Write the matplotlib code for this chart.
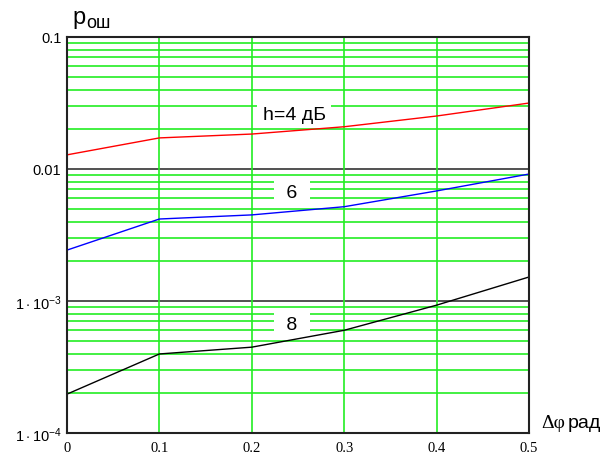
import numpy as np
import matplotlib
matplotlib.use("Agg")
import matplotlib.pyplot as plt
from matplotlib.ticker import FixedLocator, NullFormatter

# data
dphi = [0.0, 0.1, 0.2, 0.3, 0.4, 0.5]
p_h4 = [0.0128, 0.0172, 0.0184, 0.0209, 0.0252, 0.0316]
p_h6 = [0.00243, 0.00418, 0.00449, 0.00518, 0.00682, 0.00916]
p_h8 = [1.97e-4, 3.97e-4, 4.47e-4, 6.0e-4, 9.3e-4, 1.52e-3]

x_ticks = [0, 0.1, 0.2, 0.3, 0.4, 0.5]
x_labels = ["0", "0.1", "0.2", "0.3", "0.4", "0.5"]
y_ticks = [1e-4, 1e-3, 1e-2, 1e-1]
y_labels = [r"$1\cdot10^{-4}$", r"$1\cdot10^{-3}$", "0.01", "0.1"]

plt.rcParams["mathtext.fontset"] = "custom"
plt.rcParams["mathtext.rm"] = "Liberation Sans"
plt.rcParams["mathtext.it"] = "Liberation Sans"

fig = plt.figure(figsize=(6.06, 4.56), dpi=100)
ax = fig.add_axes([67 / 606, 22 / 456, 462 / 606, 396 / 456])
ax.set_yscale("log")
ax.set_xlim(0, 0.5)
ax.set_ylim(1e-4, 0.1)

green = "#22ee22"
# minor horizontal grid (green) and decade lines (dark)
minor = [m * 10.0 ** e for e in range(-4, -1) for m in range(2, 10)]
for v in minor:
    ax.axhline(v, color=green, lw=1.2, zorder=1)
for v in [1e-3, 1e-2]:
    ax.axhline(v, color="#333333", lw=1.2, zorder=1)
for v in [0.1, 0.2, 0.3, 0.4]:
    ax.axvline(v, color=green, lw=1.2, zorder=1)

# curves above the label boxes
ax.plot(dphi, p_h4, color="#ff0000", lw=1, zorder=5)
ax.plot(dphi, p_h6, color="#0000ff", lw=1, zorder=5)
ax.plot(dphi, p_h8, color="black", lw=1, zorder=5)

box = dict(facecolor="white", edgecolor="none", boxstyle="square,pad=0.3")
box_num = dict(facecolor="white", edgecolor="none", boxstyle="square,pad=0.35")
ax.text(0.2457, 0.0261, "h=4 дБ", fontsize=14, fontfamily="Liberation Sans",
        ha="center", va="center", bbox=box, zorder=4)
ax.text(0.2435, 0.00658, " 6 ", fontsize=14, fontfamily="Liberation Sans",
        ha="center", va="center", bbox=box_num, zorder=4)
ax.text(0.2435, 6.58e-4, " 8 ", fontsize=14, fontfamily="Liberation Sans",
        ha="center", va="center", bbox=box_num, zorder=4)

ax.xaxis.set_major_locator(FixedLocator(x_ticks))
ax.set_xticklabels(x_labels, fontfamily="Liberation Serif", fontsize=10.5)
ax.yaxis.set_major_locator(FixedLocator(y_ticks))
ax.set_yticklabels(y_labels, fontfamily="Liberation Sans", fontsize=10.5)
ax.yaxis.set_minor_formatter(NullFormatter())
ax.tick_params(which="both", length=0, pad=6)
ax.tick_params(axis="y", pad=4)
for s in ax.spines.values():
    s.set_linewidth(1.5)
    s.set_color("#222222")
    s.set_zorder(6)

# axis titles
fig.text(72 / 606, 1 - 18 / 456, "p", fontsize=17, fontfamily="Liberation Sans",
         ha="left", va="center")
fig.text(86 / 606, 1 - 24 / 456, "ош", fontsize=13, fontfamily="Liberation Sans",
         ha="left", va="center")
fig.text(541 / 606, 1 - 424 / 456, "Δφ", fontsize=14, fontfamily="Liberation Serif",
         ha="left", va="center")
fig.text(568 / 606, 1 - 424 / 456, "рад", fontsize=14, fontfamily="Liberation Sans",
         ha="left", va="center")

fig.savefig("out.png", dpi=100)
